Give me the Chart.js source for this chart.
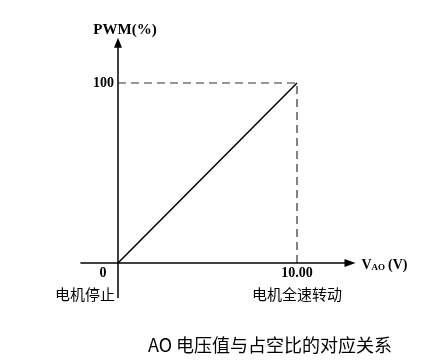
<!DOCTYPE html>
<html>
<head>
<meta charset="utf-8">
<script src="https://cdn.jsdelivr.net/npm/chart.js@4/dist/chart.umd.min.js"></script>
<style>
html,body{margin:0;padding:0;background:#fff;}
#wrap{width:436px;height:363px;position:relative;}
</style>
</head>
<body>
<div id="wrap"><canvas id="c" width="436" height="363"></canvas></div>
<script>
// ---- data ----
const voltage = [0, 10];            // V_AO (V)
const pwm = [0, 100];               // PWM (%)
const guideX = [0, 10, 10];         // dashed guide
const guideY = [100, 100, 0];
const xTickValues = [0, 10];
const xTickLabels = ['0', '10.00'];
const xCaptions = ['电机停止', '电机全速转动'];
const yTickValues = [100];
const yTickLabels = ['100'];
const yAxisTitle = 'PWM(%)';
const chartTitle = 'AO 电压值与占空比的对应关系';

const toPts = (xs, ys) => xs.map((x, i) => ({x: x, y: ys[i]}));

const axesPlugin = {
  id: 'axesPlugin',
  afterDraw(chart) {
    const ctx = chart.ctx;
    const xs = chart.scales.x, ys = chart.scales.y;
    const x0 = xs.getPixelForValue(0), y0 = ys.getPixelForValue(0);
    ctx.save();
    ctx.strokeStyle = '#000';
    ctx.fillStyle = '#000';
    ctx.lineWidth = 1.5;
    // y axis
    const yTop = ys.getPixelForValue(124);
    const yBot = ys.getPixelForValue(-19.5);
    ctx.beginPath(); ctx.moveTo(x0, yBot); ctx.lineTo(x0, yTop + 6); ctx.stroke();
    ctx.beginPath(); ctx.moveTo(x0, yTop - 2); ctx.lineTo(x0 - 4, yTop + 8); ctx.lineTo(x0 + 4, yTop + 8); ctx.closePath(); ctx.fill();
    // x axis
    const xLeft = xs.getPixelForValue(-2.1);
    const xRight = xs.getPixelForValue(13.1);
    ctx.beginPath(); ctx.moveTo(xLeft, y0); ctx.lineTo(xRight - 4, y0); ctx.stroke();
    ctx.beginPath(); ctx.moveTo(xRight + 3, y0); ctx.lineTo(xRight - 8, y0 - 4); ctx.lineTo(xRight - 8, y0 + 4); ctx.closePath(); ctx.fill();

    // texts
    ctx.textBaseline = 'middle';
    ctx.font = 'bold 15px "Liberation Serif"';
    ctx.textAlign = 'center';
    ctx.fillText(yAxisTitle, x0 + 7, yTop - 10);
    ctx.font = 'bold 14px "Liberation Serif"';
    ctx.textAlign = 'right';
    yTickValues.forEach((v, i) => ctx.fillText(yTickLabels[i], x0 - 4, ys.getPixelForValue(v)));
    ctx.textAlign = 'center';
    xTickValues.forEach((v, i) => {
      let px = xs.getPixelForValue(v);
      if (v === 0) px -= 15;
      ctx.fillText(xTickLabels[i], px, y0 + 10);
    });
    ctx.font = '15px "Noto Sans CJK SC"';
    xTickValues.forEach((v, i) => {
      const px = xs.getPixelForValue(v);
      if (v === 0) { ctx.textAlign = 'right'; ctx.fillText(xCaptions[i], px - 3, y0 + 31); }
      else { ctx.textAlign = 'center'; ctx.fillText(xCaptions[i], px, y0 + 31); }
    });
    // V_AO (V)
    ctx.textAlign = 'left';
    let tx = xRight + 9;
    ctx.font = 'bold 14px "Liberation Serif"';
    ctx.fillText('V', tx, y0 + 2); tx += ctx.measureText('V').width;
    ctx.font = 'bold 9px "Liberation Serif"';
    ctx.fillText('AO', tx, y0 + 5); tx += ctx.measureText('AO').width + 3;
    ctx.font = 'bold 14px "Liberation Serif"';
    ctx.fillText('(V)', tx, y0 + 2);
    // title
    ctx.textAlign = 'center';
    ctx.font = '18px "Noto Sans CJK SC"';
    ctx.fillText(chartTitle, 270, 345);
    ctx.restore();
  }
};

new Chart(document.getElementById('c'), {
  type: 'scatter',
  data: {
    datasets: [
      {data: toPts(guideX, guideY), showLine: true, borderColor: '#333', borderWidth: 1.2, borderDash: [8, 5], pointRadius: 0, clip: false},
      {data: toPts(voltage, pwm), showLine: true, borderColor: '#000', borderWidth: 1.5, pointRadius: 0, clip: false}
    ]
  },
  options: {
    responsive: false,
    animation: false,
    layout: {padding: {left: 82.2, right: 85.3, top: 47, bottom: 64}},
    plugins: {legend: {display: false}, tooltip: {enabled: false}},
    scales: {
      x: {type: 'linear', min: -2, max: 13, display: false},
      y: {type: 'linear', min: -20, max: 120, display: false}
    }
  },
  plugins: [axesPlugin]
});
</script>
</body>
</html>
